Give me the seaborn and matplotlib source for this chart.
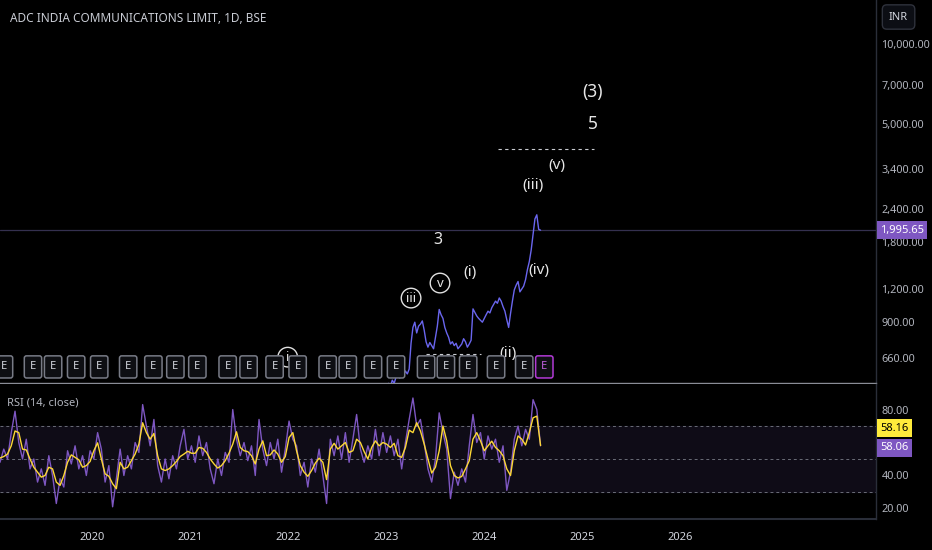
import matplotlib
matplotlib.use('Agg')
import matplotlib.pyplot as plt
import matplotlib.dates as mdates
import matplotlib.transforms as mtrans
from matplotlib.ticker import FuncFormatter, FixedLocator, NullLocator
import pandas as pd
import seaborn as sns

# ---- data ----
# monthly closes before the visible range (they sit under the pane bottom)
price_early = [105, 98, 92, 88, 85, 80, 76, 72, 70, 74, 78, 76,
               72, 66, 52, 58, 62, 70, 85, 110, 120, 115, 108, 118,
               125, 140, 135, 150, 170, 190, 200, 215, 230, 220, 240, 260,
               280, 300, 290, 320, 340, 370, 380, 400, 430, 450]
# weekly closes from Nov 2022
price_recent = [470, 455, 480, 470, 490, 475, 500, 490, 520, 505,
                530, 515, 545, 530, 560, 575, 555, 580, 570, 590,
                575, 600, 750, 860, 900, 820, 870, 885, 910, 840,
                760, 725, 755, 735, 715, 790, 870, 1005, 960, 930,
                860, 820, 790, 745, 760, 735, 750, 715, 730, 745,
                780, 760, 725, 745, 770, 1010, 980, 950, 930, 915,
                900, 930, 960, 990, 975, 1020, 1050, 1080, 1060, 1110,
                1080, 1030, 990, 920, 860, 970, 1080, 1190, 1240, 1280,
                1170, 1200, 1230, 1300, 1420, 1520, 1680, 1920, 2200, 2280,
                2010, 1995.65]
last_close = 1995.65

# RSI(14) sampled every two weeks, and its moving average
rsi_raw = [48, 56, 50, 66, 79, 60, 50, 62, 44, 50,
           36, 44, 34, 52, 40, 23, 38, 33, 55, 47,
           58, 44, 52, 40, 55, 50, 66, 56, 36, 46,
           21, 38, 56, 40, 52, 44, 60, 54, 83, 70,
           58, 74, 46, 36, 50, 38, 52, 44, 58, 68,
           50, 58, 48, 64, 52, 60, 44, 35, 50, 40,
           54, 48, 80, 62, 52, 60, 49, 58, 40, 74,
           56, 46, 60, 50, 62, 42, 56, 73, 62, 58,
           40, 48, 33, 50, 42, 56, 40, 23, 62, 52,
           64, 50, 66, 48, 62, 77, 56, 48, 58, 50,
           68, 52, 66, 54, 64, 52, 62, 44, 60, 74,
           87, 70, 74, 60, 44, 36, 50, 78, 66, 56,
           26, 42, 34, 44, 36, 58, 77, 60, 66, 50,
           64, 56, 62, 48, 58, 31, 42, 62, 70, 58,
           68, 62, 86, 80, 58.06]
rsi_ma = [50.6, 51.5, 53, 58, 67, 66, 56, 55.5, 50, 45,
          42, 39, 40, 45, 44, 36, 34, 40, 48, 52.5,
          51, 49.5, 45, 46, 48.5, 55, 59.8, 50, 41, 39.5,
          35, 32, 48, 44, 45, 49, 53, 59, 72, 66,
          62, 65.5, 52, 44, 43, 44, 46, 48.5, 51.5, 53,
          54.7, 53.5, 53.5, 57, 56.5, 54, 50, 47, 44.5, 46,
          49, 53.5, 59, 66.5, 57, 55, 54.5, 52, 47, 56,
          61, 52, 52.5, 55.5, 53, 48, 51.5, 63, 66, 55,
          46, 42, 39.5, 43, 47.5, 50.5, 48, 37.5, 56, 59.5,
          56, 58, 60, 54, 55, 62, 60, 54.5, 50, 57,
          61, 58, 60, 59, 57, 59.5, 52, 51, 57, 67.5,
          66, 72, 67, 59, 50, 41.5, 45, 55, 70, 61,
          46, 40, 38.5, 39.4, 44, 49, 62, 66, 61, 55,
          58, 60.8, 57, 55, 52, 44, 40, 55, 64, 62,
          58.5, 66, 75, 76, 58.16]

earnings_dates = ['2019-02-06', '2019-05-25', '2019-08-08', '2019-11-02',
                  '2020-01-27', '2020-05-14', '2020-08-16', '2020-11-06',
                  '2021-01-27', '2021-05-20', '2021-08-06', '2021-11-11',
                  '2022-02-05', '2022-05-28', '2022-08-11', '2022-11-13',
                  '2023-02-07', '2023-05-30', '2023-08-12', '2023-11-03',
                  '2024-02-15', '2024-05-30', '2024-08-13']

# Elliott wave labels: text, date, price, font size, circled
wave_labels = [('(3)', '2025-02-08', 6600, 12.5, False),
               ('5', '2025-02-12', 5000, 12.5, False),
               ('(v)', '2024-09-27', 3480, 11, False),
               ('(iii)', '2024-07-03', 2930, 11, False),
               ('(iv)', '2024-07-25', 1413, 11, False),
               ('3', '2023-07-14', 1834, 11.5, False),
               ('(i)', '2023-11-10', 1389, 11, False),
               ('(ii)', '2024-03-31', 689, 11, False),
               ('iii', '2023-04-04', 1109, 9.5, True),
               ('v', '2023-07-21', 1263, 9.5, True),
               ('i', '2021-12-30', 665, 9.5, True)]
# dashed target lines: start, end, price
wave_lines = [('2024-02-23', '2025-02-16', 4030),
              ('2023-05-30', '2023-12-21', 684)]

price_ticks = [660, 900, 1200, 1800, 2400, 3400, 5000, 7000, 10000]
rsi_ticks = [20, 40, 80]
years = [2020, 2021, 2022, 2023, 2024, 2025, 2026]

price = pd.DataFrame({
    'date': list(pd.date_range('2019-01-01', periods=len(price_early), freq='MS'))
            + list(pd.date_range('2022-11-01', periods=len(price_recent), freq='7D')),
    'close': price_early + price_recent})
rsi = pd.DataFrame({'date': pd.date_range('2019-01-22', periods=len(rsi_raw), freq='14D'),
                    'rsi': rsi_raw, 'ma': rsi_ma})

# ---- style ----
BG = '#000000'
TXT = '#b2b5be'
sns.set_theme(style='dark', rc={'axes.facecolor': BG, 'figure.facecolor': BG})
plt.rcParams['font.family'] = ['Noto Sans', 'DejaVu Sans']

fig = plt.figure(figsize=(9.32, 5.5), dpi=100)
ax = fig.add_axes([0, 167 / 550, 876 / 932, 383 / 550])
ax2 = fig.add_axes([0, 31 / 550, 876 / 932, 135 / 550], sharex=ax)

# ---- price pane ----
ax.set_yscale('log')
sns.lineplot(data=price, x='date', y='close', ax=ax, color='#6a66ee', lw=1,
             estimator=None, zorder=3)
ax.axhline(last_close, color='#34304f', lw=0.9, zorder=1)
ax.set_ylim(531.7, 14636)
ax.set_xlim(pd.Timestamp('2019-01-22'), pd.Timestamp('2028-01-02'))

for d1, d2, p in wave_lines:
    ax.plot([pd.Timestamp(d1), pd.Timestamp(d2)], [p, p], color='#c8cad0',
            lw=0.8, ls=(0, (3, 3)), zorder=2)

for txt, d, p, fs, circ in wave_labels:
    kw = {}
    if circ:
        kw['bbox'] = dict(boxstyle='circle,pad=0.25', fc='none', ec='#e0e0e0', lw=1)
    ax.text(pd.Timestamp(d), p, txt, color='#e6e6e6', fontsize=fs,
            ha='center', va='center', zorder=4, **kw)

etrans = mtrans.blended_transform_factory(ax.transData, ax.transAxes)
for i, d in enumerate(earnings_dates):
    last = i == len(earnings_dates) - 1
    col = '#b23ad6' if last else '#787b86'
    ax.text(pd.Timestamp(d), 0.042, 'E', transform=etrans, color='#c060e0' if last else '#d1d4dc',
            fontsize=8, ha='center', va='center', zorder=6,
            bbox=dict(boxstyle='round,pad=0.5,rounding_size=0.2', fc='#0e0f13', ec=col, lw=1.1))

ax.yaxis.tick_right()
ax.yaxis.set_major_locator(FixedLocator(price_ticks))
ax.yaxis.set_minor_locator(NullLocator())
ax.yaxis.set_major_formatter(FuncFormatter(lambda v, _: f'{v:,.2f}'))
ax.tick_params(axis='y', length=0, pad=4, labelsize=7.8, labelcolor=TXT)
ax.tick_params(axis='x', length=0, labelbottom=False)
ax.set_xlabel('')
ax.set_ylabel('')
ax.grid(False)

ptrans = mtrans.blended_transform_factory(ax.transAxes, ax.transData)
ax.text(1.0 + 4 / 876, last_close, f'{last_close:,.2f}', transform=ptrans, color='white',
        fontsize=8, fontweight='bold', ha='left', va='center', zorder=8, clip_on=False,
        bbox=dict(boxstyle='square,pad=0.3', fc='#7e57c2', ec='none'))

# ---- RSI pane ----
ax2.axhspan(30, 70, color='#0f0c17', zorder=0)
for lvl in (70, 50, 30):
    ax2.axhline(lvl, color='#6a6d78', lw=0.7, ls=(0, (3, 3)), zorder=1)
sns.lineplot(data=rsi, x='date', y='rsi', ax=ax2, color='#7e57c2', lw=1,
             estimator=None, zorder=2)
sns.lineplot(data=rsi, x='date', y='ma', ax=ax2, color='#fdd835', lw=1,
             estimator=None, zorder=3)
ax2.set_ylim(13.6, 95.5)
ax2.yaxis.tick_right()
ax2.yaxis.set_major_locator(FixedLocator(rsi_ticks))
ax2.yaxis.set_major_formatter(FuncFormatter(lambda v, _: f'{v:.2f}'))
ax2.tick_params(axis='y', length=0, pad=4, labelsize=7.8, labelcolor=TXT)
ax2.xaxis.set_major_locator(FixedLocator([mdates.date2num(pd.Timestamp(f'{y}-01-01')) for y in years]))
ax2.xaxis.set_major_formatter(mdates.DateFormatter('%Y'))
ax2.tick_params(axis='x', length=0, pad=9, labelsize=8, labelcolor='#d1d4dc')
ax2.set_xlabel('')
ax2.set_ylabel('')
ax2.grid(False)

ax2.text(1.0 + 4 / 876, 0.674, f'{rsi_ma[-1]:.2f}', transform=ax2.transAxes, color='black',
         fontsize=8, ha='left', va='center', zorder=8, clip_on=False,
         bbox=dict(boxstyle='square,pad=0.3', fc='#ffeb3b', ec='none'))
ax2.text(1.0 + 4 / 876, 0.526, f'{rsi_raw[-1]:.2f}', transform=ax2.transAxes, color='white',
         fontsize=8, ha='left', va='center', zorder=8, clip_on=False,
         bbox=dict(boxstyle='square,pad=0.3', fc='#7e57c2', ec='none'))
ax2.text(0.008, 0.86, 'RSI (14, close)', transform=ax2.transAxes, color=TXT, fontsize=8,
         ha='left', va='center')

for a in (ax, ax2):
    for s in ('top', 'left'):
        a.spines[s].set_visible(False)
    a.spines['right'].set_color('#2a2e39')
    a.spines['right'].set_linewidth(1)
ax.spines['bottom'].set_color('#8a8d96')
ax.spines['bottom'].set_linewidth(1)
ax2.spines['bottom'].set_color('#2a2e39')
ax2.spines['bottom'].set_linewidth(1.5)

fig.text(10 / 932, 1 - 18 / 550, 'ADC INDIA COMMUNICATIONS LIMIT, 1D, BSE', color='#c9ccd4',
         fontsize=8.5, ha='left', va='center')
fig.text(889 / 932, 1 - 17 / 550, 'INR', color='#d1d4dc', fontsize=8, ha='left', va='center',
         bbox=dict(boxstyle='round,pad=0.6,rounding_size=0.4', fc='#0c0e14', ec='#2f323c', lw=1))

fig.savefig('out.png', dpi=100, facecolor=BG)
